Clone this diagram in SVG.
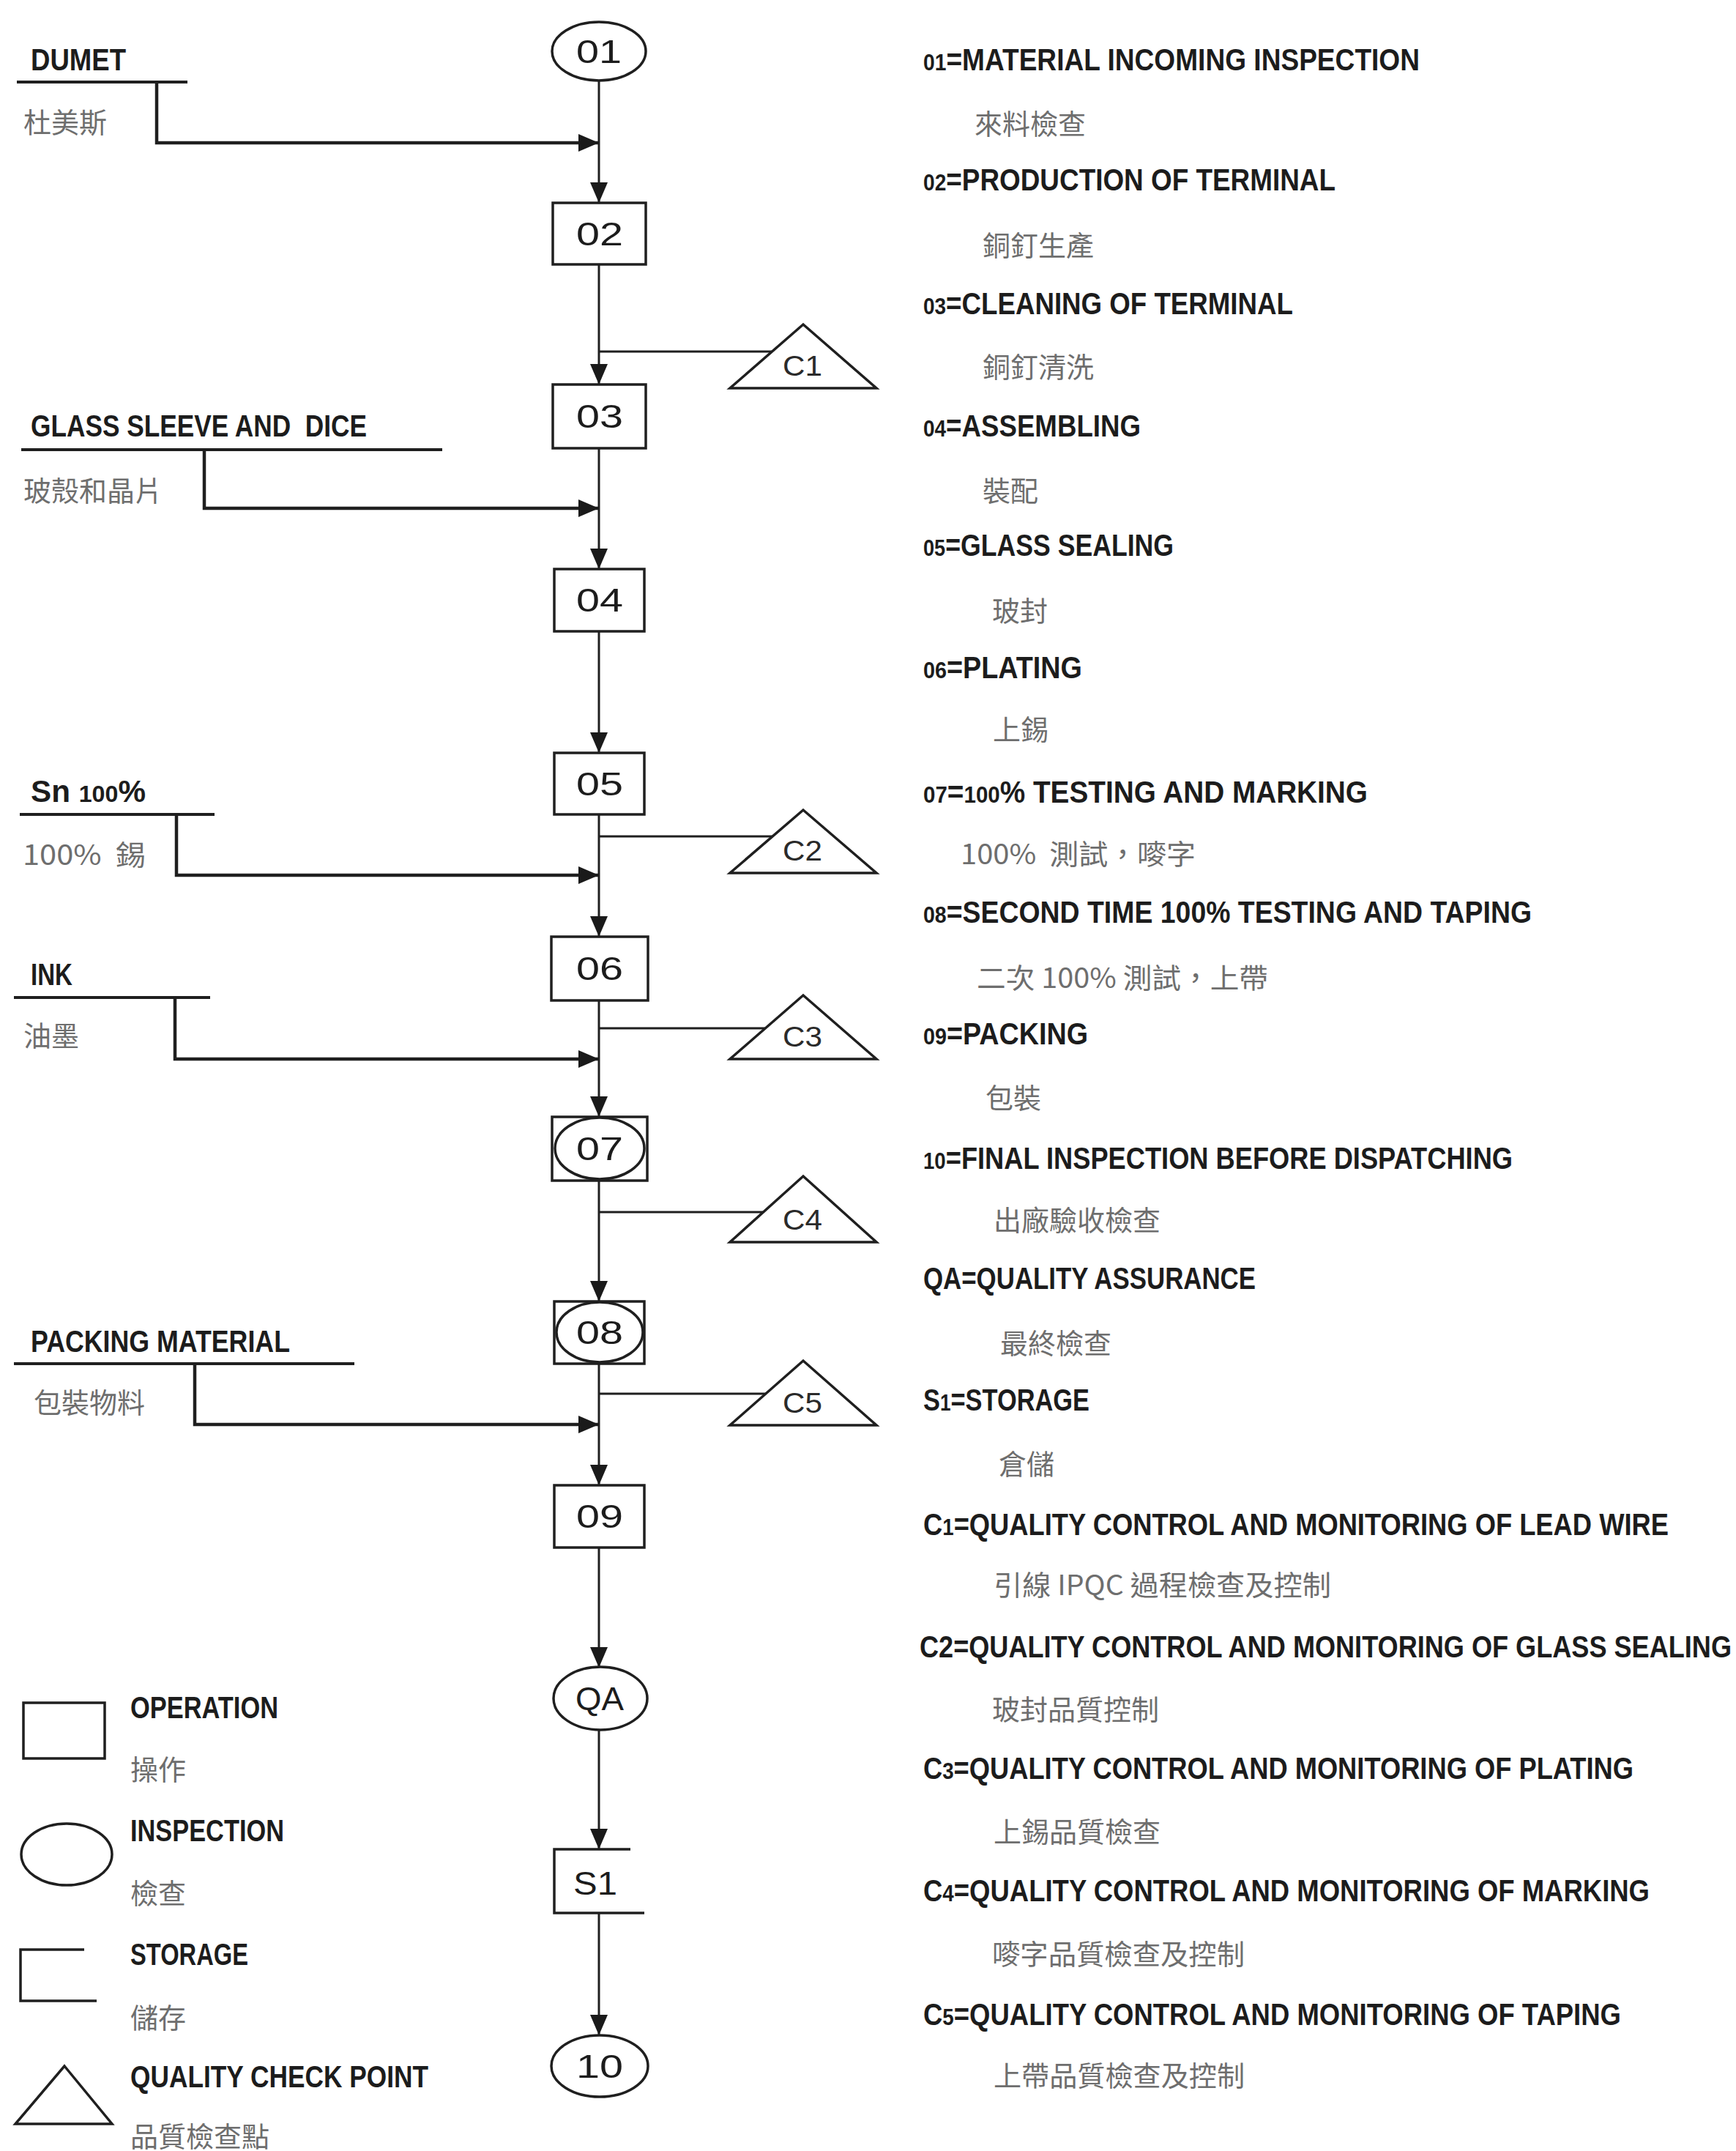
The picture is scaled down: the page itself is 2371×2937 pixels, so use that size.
<svg xmlns="http://www.w3.org/2000/svg" width="2371" height="2937" viewBox="0 0 2371 2937">
<defs>
<marker id="arr" viewBox="0 0 28 24" refX="28" refY="12" markerWidth="28" markerHeight="24" markerUnits="userSpaceOnUse" orient="auto">
<path d="M0,0 L28,12 L0,24 Z" fill="#1a1a1a"/>
</marker>
<style>
.shape{fill:none;stroke:#1f1f1f;stroke-width:3.5}
.flow{fill:none;stroke:#1f1f1f;stroke-width:3}
.feed{fill:none;stroke:#1f1f1f;stroke-width:4.5}
.ul{fill:none;stroke:#1f1f1f;stroke-width:4}
.en{font-family:"Liberation Sans",Arial,sans-serif;font-weight:bold;font-size:42px;fill:#1c1c1c}
.od{font-size:32px}
.zh{font-family:"Noto Sans CJK TC","Noto Sans CJK SC",sans-serif;font-size:38px;fill:#6e6e6e}
.lbl{font-family:"Liberation Sans",Arial,sans-serif;font-size:44px;fill:#1c1c1c;text-anchor:middle}
.cl{font-family:"Liberation Sans",Arial,sans-serif;font-size:38px;fill:#2a2a2a;text-anchor:middle}
</style>
</defs>
<rect width="2371" height="2937" fill="#ffffff"/>

<g id="connectors">
<line class="flow" x1="818" y1="110" x2="818" y2="277" marker-end="url(#arr)"/>
<line class="flow" x1="818" y1="361" x2="818" y2="525" marker-end="url(#arr)"/>
<line class="flow" x1="818" y1="612" x2="818" y2="777" marker-end="url(#arr)"/>
<line class="flow" x1="818" y1="862" x2="818" y2="1028" marker-end="url(#arr)"/>
<line class="flow" x1="818" y1="1112" x2="818" y2="1279" marker-end="url(#arr)"/>
<line class="flow" x1="818" y1="1366" x2="818" y2="1525" marker-end="url(#arr)"/>
<line class="flow" x1="818" y1="1612" x2="818" y2="1777" marker-end="url(#arr)"/>
<line class="flow" x1="818" y1="1862" x2="818" y2="2028" marker-end="url(#arr)"/>
<line class="flow" x1="818" y1="2113" x2="818" y2="2277" marker-end="url(#arr)"/>
<line class="flow" x1="818" y1="2362" x2="818" y2="2525" marker-end="url(#arr)"/>
<line class="flow" x1="818" y1="2612" x2="818" y2="2779" marker-end="url(#arr)"/>
<polyline class="feed" points="214,112 214,195 818,195" marker-end="url(#arr)"/>
<polyline class="feed" points="279,614 279,694 818,694" marker-end="url(#arr)"/>
<polyline class="feed" points="241,1112 241,1195 818,1195" marker-end="url(#arr)"/>
<polyline class="feed" points="239,1362 239,1446 818,1446" marker-end="url(#arr)"/>
<polyline class="feed" points="266,1862 266,1945 818,1945" marker-end="url(#arr)"/>
<line class="flow" x1="818" y1="480" x2="1054" y2="480"/>
<line class="flow" x1="818" y1="1142" x2="1055" y2="1142"/>
<line class="flow" x1="818" y1="1404" x2="1045" y2="1404"/>
<line class="flow" x1="818" y1="1655" x2="1043" y2="1655"/>
<line class="flow" x1="818" y1="1903" x2="1046" y2="1903"/>
</g>

<g id="n01"><ellipse class="shape" cx="818" cy="70" rx="64" ry="40"/><text class="lbl" x="818" y="86" textLength="62" lengthAdjust="spacingAndGlyphs">01</text></g>
<g id="n02"><rect class="shape" x="755" y="277" width="127" height="84"/><text class="lbl" x="819" y="335" textLength="64" lengthAdjust="spacingAndGlyphs">02</text></g>
<g id="n03"><rect class="shape" x="755" y="525" width="127" height="87"/><text class="lbl" x="819" y="584" textLength="64" lengthAdjust="spacingAndGlyphs">03</text></g>
<g id="n04"><rect class="shape" x="757" y="777" width="123" height="85"/><text class="lbl" x="819" y="835" textLength="64" lengthAdjust="spacingAndGlyphs">04</text></g>
<g id="n05"><rect class="shape" x="757" y="1028" width="123" height="84"/><text class="lbl" x="819" y="1086" textLength="64" lengthAdjust="spacingAndGlyphs">05</text></g>
<g id="n06"><rect class="shape" x="753" y="1279" width="132" height="87"/><text class="lbl" x="819" y="1338" textLength="64" lengthAdjust="spacingAndGlyphs">06</text></g>
<g id="n07"><rect class="shape" x="754" y="1525" width="130" height="87"/><ellipse class="shape" cx="819" cy="1568" rx="61" ry="42"/><text class="lbl" x="819" y="1584" textLength="64" lengthAdjust="spacingAndGlyphs">07</text></g>
<g id="n08"><rect class="shape" x="757" y="1777" width="123" height="85"/><ellipse class="shape" cx="819" cy="1819" rx="59" ry="41"/><text class="lbl" x="819" y="1835" textLength="64" lengthAdjust="spacingAndGlyphs">08</text></g>
<g id="n09"><rect class="shape" x="757" y="2028" width="123" height="85"/><text class="lbl" x="819" y="2086" textLength="64" lengthAdjust="spacingAndGlyphs">09</text></g>
<g id="nQA"><ellipse class="shape" cx="820" cy="2319" rx="64" ry="43"/><text class="lbl" x="819" y="2335" textLength="66" lengthAdjust="spacingAndGlyphs">QA</text></g>
<g id="nS1"><path class="shape" d="M861,2525 H757 V2612 H880"/><text class="lbl" x="813" y="2587" textLength="60" lengthAdjust="spacingAndGlyphs">S1</text></g>
<g id="n10"><ellipse class="shape" cx="819" cy="2821" rx="66" ry="42"/><text class="lbl" x="819" y="2837" textLength="64" lengthAdjust="spacingAndGlyphs">10</text></g>

<g id="c1"><polygon class="shape" points="1097,443 1197,530 997,530"/><text class="cl" x="1096" y="513" textLength="54" lengthAdjust="spacingAndGlyphs">C1</text></g>
<g id="c2"><polygon class="shape" points="1097,1106 1197,1192 997,1192"/><text class="cl" x="1096" y="1175" textLength="54" lengthAdjust="spacingAndGlyphs">C2</text></g>
<g id="c3"><polygon class="shape" points="1097,1359 1197,1446 997,1446"/><text class="cl" x="1096" y="1429" textLength="54" lengthAdjust="spacingAndGlyphs">C3</text></g>
<g id="c4"><polygon class="shape" points="1097,1606 1197,1696 997,1696"/><text class="cl" x="1096" y="1679" textLength="54" lengthAdjust="spacingAndGlyphs">C4</text></g>
<g id="c5"><polygon class="shape" points="1097,1858 1197,1946 997,1946"/><text class="cl" x="1096" y="1929" textLength="54" lengthAdjust="spacingAndGlyphs">C5</text></g>

<g id="m-dumet"><line class="ul" x1="23" y1="112" x2="256" y2="112"/><text class="en" transform="translate(42,96) scale(0.78,1)" textLength="166.7" lengthAdjust="spacingAndGlyphs">DUMET</text><text class="zh" x="32" y="181">杜美斯</text></g>
<g id="m-glass"><line class="ul" x1="29" y1="614" x2="604" y2="614"/><text class="en" transform="translate(42,596) scale(0.78,1)" textLength="588.5" lengthAdjust="spacingAndGlyphs" xml:space="preserve">GLASS SLEEVE AND  DICE</text><text class="zh" x="32" y="684">玻殼和晶片</text></g>
<g id="m-sn"><line class="ul" x1="27" y1="1112" x2="293" y2="1112"/><text class="en" transform="translate(42,1095) scale(0.78,1)" textLength="201.3" lengthAdjust="spacingAndGlyphs">Sn <tspan class="od">100</tspan>%</text><text class="zh" x="31" y="1181" textLength="168" lengthAdjust="spacingAndGlyphs" xml:space="preserve">100%  錫</text></g>
<g id="m-ink"><line class="ul" x1="19" y1="1362" x2="287" y2="1362"/><text class="en" transform="translate(42,1345) scale(0.78,1)" textLength="73.1" lengthAdjust="spacingAndGlyphs">INK</text><text class="zh" x="32" y="1428">油墨</text></g>
<g id="m-pack"><line class="ul" x1="19" y1="1862" x2="484" y2="1862"/><text class="en" transform="translate(42,1846) scale(0.78,1)" textLength="453.8" lengthAdjust="spacingAndGlyphs">PACKING MATERIAL</text><text class="zh" x="46" y="1929">包裝物料</text></g>

<g id="legend">
<rect class="shape" x="32" y="2325" width="111" height="76"/>
<text class="en" transform="translate(178,2346) scale(0.78,1)" textLength="259" lengthAdjust="spacingAndGlyphs">OPERATION</text>
<text class="zh" x="178" y="2430">操作</text>
<ellipse class="shape" cx="91" cy="2532" rx="62" ry="42"/>
<text class="en" transform="translate(178,2514) scale(0.78,1)" textLength="269.2" lengthAdjust="spacingAndGlyphs">INSPECTION</text>
<text class="zh" x="178" y="2599">檢查</text>
<path class="shape" d="M115,2662 H28 V2732 H132"/>
<text class="en" transform="translate(178,2683) scale(0.78,1)" textLength="206.4" lengthAdjust="spacingAndGlyphs">STORAGE</text>
<text class="zh" x="178" y="2769">儲存</text>
<polygon class="shape" points="88,2821 153,2900 21,2900"/>
<text class="en" transform="translate(178,2850) scale(0.78,1)" textLength="521.8" lengthAdjust="spacingAndGlyphs">QUALITY CHECK POINT</text>
<text class="zh" x="178" y="2931">品質檢查點</text>
</g>

<g id="key">
<text class="en" transform="translate(1261,96) scale(0.78,1)" textLength="869.2" lengthAdjust="spacingAndGlyphs"><tspan class="od">01</tspan>=MATERIAL INCOMING INSPECTION</text>
<text class="zh" x="1331" y="183">來料檢查</text>
<text class="en" transform="translate(1261,260) scale(0.78,1)" textLength="721.8" lengthAdjust="spacingAndGlyphs"><tspan class="od">02</tspan>=PRODUCTION OF TERMINAL</text>
<text class="zh" x="1342" y="349">銅釘生產</text>
<text class="en" transform="translate(1261,429) scale(0.78,1)" textLength="647.4" lengthAdjust="spacingAndGlyphs"><tspan class="od">03</tspan>=CLEANING OF TERMINAL</text>
<text class="zh" x="1342" y="515">銅釘清洗</text>
<text class="en" transform="translate(1261,596) scale(0.78,1)" textLength="380.8" lengthAdjust="spacingAndGlyphs"><tspan class="od">04</tspan>=ASSEMBLING</text>
<text class="zh" x="1342" y="684">裝配</text>
<text class="en" transform="translate(1261,759) scale(0.78,1)" textLength="438.5" lengthAdjust="spacingAndGlyphs"><tspan class="od">05</tspan>=GLASS SEALING</text>
<text class="zh" x="1355" y="848">玻封</text>
<text class="en" transform="translate(1261,926) scale(0.78,1)" textLength="278.2" lengthAdjust="spacingAndGlyphs"><tspan class="od">06</tspan>=PLATING</text>
<text class="zh" x="1356" y="1010">上錫</text>
<text class="en" transform="translate(1261,1096) scale(0.78,1)" textLength="778.2" lengthAdjust="spacingAndGlyphs"><tspan class="od">07</tspan>=<tspan class="od">100</tspan>% TESTING AND MARKING</text>
<text class="zh" x="1312" y="1180" textLength="321" lengthAdjust="spacingAndGlyphs" xml:space="preserve">100%  測試，嘜字</text>
<text class="en" transform="translate(1261,1260) scale(0.78,1)" textLength="1065.4" lengthAdjust="spacingAndGlyphs"><tspan class="od">08</tspan>=SECOND TIME 100% TESTING AND TAPING</text>
<text class="zh" x="1334" y="1349" textLength="398" lengthAdjust="spacingAndGlyphs">二次 100% 測試，上帶</text>
<text class="en" transform="translate(1261,1426) scale(0.78,1)" textLength="288.5" lengthAdjust="spacingAndGlyphs"><tspan class="od">09</tspan>=PACKING</text>
<text class="zh" x="1346" y="1513">包裝</text>
<text class="en" transform="translate(1261,1596) scale(0.78,1)" textLength="1032.1" lengthAdjust="spacingAndGlyphs"><tspan class="od">10</tspan>=FINAL INSPECTION BEFORE DISPATCHING</text>
<text class="zh" x="1357" y="1680">出廠驗收檢查</text>
<text class="en" transform="translate(1261,1760) scale(0.78,1)" textLength="582.1" lengthAdjust="spacingAndGlyphs">QA=QUALITY ASSURANCE</text>
<text class="zh" x="1366" y="1848">最終檢查</text>
<text class="en" transform="translate(1261,1926) scale(0.78,1)" textLength="291" lengthAdjust="spacingAndGlyphs">S<tspan class="od">1</tspan>=STORAGE</text>
<text class="zh" x="1364" y="2013">倉儲</text>
<text class="en" transform="translate(1261,2096) scale(0.78,1)" textLength="1305.1" lengthAdjust="spacingAndGlyphs">C<tspan class="od">1</tspan>=QUALITY CONTROL AND MONITORING OF LEAD WIRE</text>
<text class="zh" x="1357" y="2178" textLength="461" lengthAdjust="spacingAndGlyphs">引線 IPQC 過程檢查及控制</text>
<text class="en" transform="translate(1256,2263) scale(0.78,1)" textLength="1421.8" lengthAdjust="spacingAndGlyphs">C2=QUALITY CONTROL AND MONITORING OF GLASS SEALING</text>
<text class="zh" x="1355" y="2348">玻封品質控制</text>
<text class="en" transform="translate(1261,2429) scale(0.78,1)" textLength="1243.6" lengthAdjust="spacingAndGlyphs">C<tspan class="od">3</tspan>=QUALITY CONTROL AND MONITORING OF PLATING</text>
<text class="zh" x="1357" y="2515">上錫品質檢查</text>
<text class="en" transform="translate(1261,2596) scale(0.78,1)" textLength="1271.8" lengthAdjust="spacingAndGlyphs">C<tspan class="od">4</tspan>=QUALITY CONTROL AND MONITORING OF MARKING</text>
<text class="zh" x="1355" y="2682" textLength="345" lengthAdjust="spacingAndGlyphs">嘜字品質檢查及控制</text>
<text class="en" transform="translate(1261,2765) scale(0.78,1)" textLength="1221.8" lengthAdjust="spacingAndGlyphs">C<tspan class="od">5</tspan>=QUALITY CONTROL AND MONITORING OF TAPING</text>
<text class="zh" x="1357" y="2848" textLength="343" lengthAdjust="spacingAndGlyphs">上帶品質檢查及控制</text>
</g>
</svg>
